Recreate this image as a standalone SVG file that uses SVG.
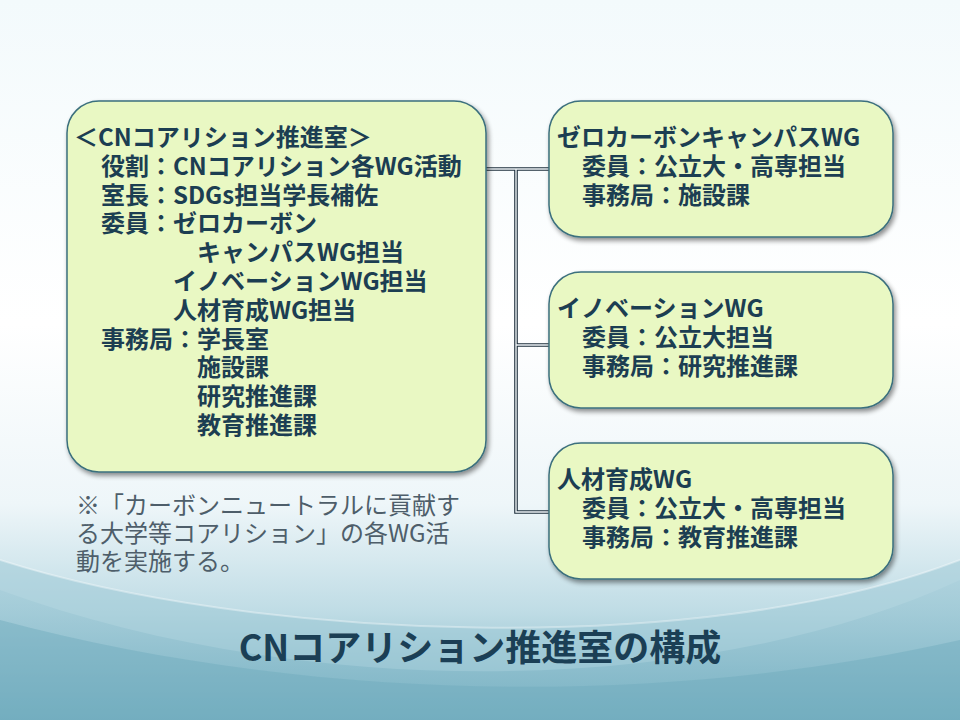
<svg xmlns="http://www.w3.org/2000/svg" width="960" height="720" viewBox="0 0 960 720">
  <defs>
    <linearGradient id="bg" x1="0" y1="0" x2="0" y2="1">
      <stop offset="0" stop-color="#F3FAFC"/>
      <stop offset="0.45" stop-color="#FFFFFF"/>
      <stop offset="0.7" stop-color="#EEF6F9"/>
      <stop offset="0.85" stop-color="#BFDCE5"/>
      <stop offset="1" stop-color="#76B0C2"/>
    </linearGradient>
    <linearGradient id="wave1" x1="0" y1="0" x2="0" y2="1">
      <stop offset="0" stop-color="#A9CFDB" stop-opacity="0.9"/>
      <stop offset="1" stop-color="#6AA8BB" stop-opacity="1"/>
    </linearGradient>
    <filter id="sh" x="-10%" y="-10%" width="125%" height="125%">
      <feGaussianBlur in="SourceAlpha" stdDeviation="2.5"/>
      <feOffset dx="2" dy="3" result="b"/>
      <feComponentTransfer><feFuncA type="linear" slope="0.45"/></feComponentTransfer>
      <feMerge><feMergeNode/><feMergeNode in="SourceGraphic"/></feMerge>
    </filter>
    <style>
      .box { fill: #E9F8C3; stroke: #3B6F7D; stroke-width: 1.5; filter: url(#sh); }
      .t { font-family: "Noto Sans CJK JP", "Noto Sans", sans-serif; font-weight: bold; font-size: 24px; fill: #1C3E52; }
      .note { font-family: "Noto Sans CJK JP", "Noto Sans", sans-serif; font-weight: normal; font-size: 24px; fill: #4E5E6A; }
      .title { font-family: "Noto Sans CJK JP", "Noto Sans", sans-serif; font-weight: bold; font-size: 36px; fill: #1B3F55; }
      .lnOut { fill: none; stroke: #1E2F3C; stroke-width: 3.6; }
      .lnIn { fill: none; stroke: #EEF4F6; stroke-width: 1.4; }
    </style>
  </defs>

  <!-- background -->
  <rect x="0" y="0" width="960" height="720" fill="url(#bg)"/>
  <path d="M0,560 C250,640 700,660 960,560 L960,720 L0,720 Z" fill="#9DC8D5" opacity="0.55"/>
  <path d="M0,590 C300,700 700,700 960,580 L960,720 L0,720 Z" fill="url(#wave1)" opacity="0.6"/>
  <path d="M0,620 C300,700 650,710 960,640 L960,720 L0,720 Z" fill="#6FAABD" opacity="0.45"/>
  <path d="M0,560 C250,640 700,660 960,560" fill="none" stroke="#FFFFFF" stroke-opacity="0.35" stroke-width="2"/>

  <!-- connectors -->
  <g id="connectors">
    <path class="lnOut" d="M486,169 H549 M516,169 V512 H549 M516,345 H549"/>
    <path class="lnIn" d="M486,169 H549 M516,169 V512 H549 M516,345 H549"/>
  </g>

  <!-- main node -->
  <g id="node-main">
    <rect class="box" x="67" y="101" width="419" height="371" rx="32"/>
    <text class="t">
      <tspan x="74" y="146">＜CNコアリション推進室＞</tspan>
      <tspan x="101" y="175">役割：CNコアリション各WG活動</tspan>
      <tspan x="101" y="204">室長：SDGs担当学長補佐</tspan>
      <tspan x="101" y="232">委員：ゼロカーボン</tspan>
      <tspan x="197" y="261">キャンパスWG担当</tspan>
      <tspan x="173" y="290">イノベーションWG担当</tspan>
      <tspan x="173" y="319">人材育成WG担当</tspan>
      <tspan x="101" y="348">事務局：学長室</tspan>
      <tspan x="197" y="376">施設課</tspan>
      <tspan x="197" y="405">研究推進課</tspan>
      <tspan x="197" y="434">教育推進課</tspan>
    </text>
  </g>

  <!-- WG nodes -->
  <g id="node-zero">
    <rect class="box" x="549" y="101" width="344" height="136" rx="32"/>
    <text class="t">
      <tspan x="557" y="146">ゼロカーボンキャンパスWG</tspan>
      <tspan x="582" y="175">委員：公立大・高専担当</tspan>
      <tspan x="582" y="204">事務局：施設課</tspan>
    </text>
  </g>
  <g id="node-innov">
    <rect class="box" x="549" y="272" width="344" height="136" rx="32"/>
    <text class="t">
      <tspan x="557" y="317">イノベーションWG</tspan>
      <tspan x="582" y="346">委員：公立大担当</tspan>
      <tspan x="582" y="375">事務局：研究推進課</tspan>
    </text>
  </g>
  <g id="node-jinzai">
    <rect class="box" x="549" y="443" width="344" height="136" rx="32"/>
    <text class="t">
      <tspan x="557" y="488">人材育成WG</tspan>
      <tspan x="582" y="517">委員：公立大・高専担当</tspan>
      <tspan x="582" y="546">事務局：教育推進課</tspan>
    </text>
  </g>

  <!-- note -->
  <text class="note">
    <tspan x="76" y="514">※「カーボンニュートラルに貢献す</tspan>
    <tspan x="76" y="542">る大学等コアリション」の各WG活</tspan>
    <tspan x="76" y="570">動を実施する。</tspan>
  </text>

  <!-- title -->
  <text class="title" x="480" y="661" text-anchor="middle">CNコアリション推進室の構成</text>
</svg>
